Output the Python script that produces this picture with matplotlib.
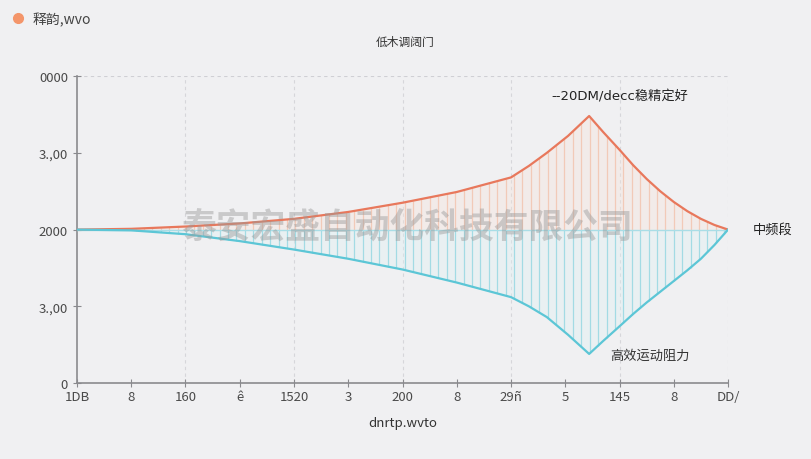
import numpy as np
import matplotlib
matplotlib.use("Agg")
import matplotlib.pyplot as plt
from matplotlib.lines import Line2D

plt.rcParams['font.family'] = ['Noto Sans CJK SC', 'DejaVu Sans']

# ---- data ----
x_tick_labels = ['1DB', '8', '160', 'ê', '1520', '3', '200', '8', '29ñ', '5', '145', '8', 'DD/']
y_tick_labels = ['0', '3.,00', '2000', '3.,00', '0000']

upper_x = [0, 1, 2, 3, 4, 5, 6, 7, 8, 8.33, 8.66, 9.05, 9.44, 9.7, 10, 10.25, 10.5, 10.75, 11, 11.25, 11.5, 11.75, 12]
upper_y = [2.0, 2.01, 2.04, 2.08, 2.14, 2.23, 2.35, 2.49, 2.68, 2.83, 3.0, 3.22, 3.48, 3.27, 3.04, 2.84, 2.66, 2.5, 2.36, 2.24, 2.14, 2.06, 2.0]

lower_x = [0, 1, 2, 3, 4, 5, 6, 7, 8, 8.33, 8.66, 9.05, 9.44, 9.7, 10, 10.25, 10.5, 10.75, 11, 11.25, 11.5, 11.75, 12]
lower_y = [2.0, 1.99, 1.94, 1.85, 1.74, 1.62, 1.48, 1.31, 1.12, 1.0, 0.86, 0.63, 0.38, 0.55, 0.74, 0.9, 1.05, 1.19, 1.33, 1.47, 1.62, 1.8, 2.0]

baseline = 2.0
legend_label = '释韵,wvo'
title = '低木调阔门'
x_label = 'dnrtp.wvto'
ann_peak = '--20DM/decc稳精定好'
ann_trough = '高效运动阻力'
ann_end = '中频段'
watermark = '泰安宏盛自动化科技有限公司'

# ---- style ----
bg = '#F0F0F2'
c_up = '#E8785C'
c_up_h = '#F2BFA8'
c_lo = '#5CC6D6'
c_lo_h = '#97D8E2'

fig = plt.figure(figsize=(8.12, 4.6), dpi=100, facecolor=bg)
ax = fig.add_axes([0.0948, 0.165, 0.8018, 0.6674])
ax.set_facecolor(bg)

# hatching lines between curves and baseline
hx = np.arange(0.15, 12.0, 0.155)
uy = np.interp(hx, upper_x, upper_y)
ly = np.interp(hx, lower_x, lower_y)
ax.vlines(hx, baseline, uy, color=c_up_h, lw=0.9, alpha=0.75, zorder=2)
ax.vlines(hx, ly, baseline, color=c_lo_h, lw=0.9, alpha=0.85, zorder=2)
ax.fill_between(upper_x, baseline, upper_y, color='#F7E3D9', alpha=0.35, lw=0, zorder=1)
ax.fill_between(lower_x, lower_y, baseline, color='#DDF1F4', alpha=0.35, lw=0, zorder=1)

ax.plot([0, 12], [baseline, baseline], color='#A9DDE6', lw=1.0, zorder=3)
ax.plot(upper_x, upper_y, color=c_up, lw=1.6, zorder=4, solid_joinstyle='round')
ax.plot(lower_x, lower_y, color=c_lo, lw=1.6, zorder=4, solid_joinstyle='round')

ax.set_xlim(0, 12)
ax.set_ylim(0, 4)
ax.set_xticks(range(13))
ax.set_xticklabels(x_tick_labels)
ax.set_yticks(range(5))
ax.set_yticklabels(y_tick_labels)

for v in [2, 4, 6, 8, 10, 12]:
    ax.axvline(v, color='#D6D6DA', lw=0.8, ls=(0, (3, 3)), zorder=0)
ax.axhline(4, color='#CFCFD4', lw=0.8, ls=(0, (3, 3)), zorder=0)

for s in ['top', 'right']:
    ax.spines[s].set_visible(False)
for s in ['left', 'bottom']:
    ax.spines[s].set_color('#8A8A8E')
    ax.spines[s].set_linewidth(1.2)
ax.tick_params(axis='both', direction='inout', length=6, color='#8A8A8E',
               labelcolor='#4A4A4A', labelsize=9.5)
ax.tick_params(axis='x', pad=2)

ax.set_xlabel(x_label, fontsize=9.5, color='#333333', labelpad=9)

# annotations
ax.text(10.0, 3.66, ann_peak, ha='center', va='bottom', fontsize=9.5, color='#222222',
        family=['DejaVu Sans', 'Noto Sans CJK SC'])
ax.text(10.56, 0.36, ann_trough, ha='center', va='center', fontsize=9.5, color='#333333')
ax.text(12.45, 2.0, ann_end, ha='left', va='center', fontsize=9.5, color='#222222', clip_on=False)

# title and legend
fig.text(0.4985, 0.908, title, ha='center', va='center', fontsize=8.5, color='#333333')
fig.add_artist(Line2D([0.022], [0.958], marker='o', markersize=7, color='#F4956A',
                      transform=fig.transFigure, lw=0))
fig.text(0.040, 0.957, legend_label, ha='left', va='center', fontsize=10, color='#444444')

# watermark
ax.text(6.08, 2.03, watermark, ha='center', va='center', fontsize=25, fontweight='bold',
        color='#9A9A9A', alpha=0.45, zorder=5)

fig.savefig('out.png', dpi=100, facecolor=bg)
